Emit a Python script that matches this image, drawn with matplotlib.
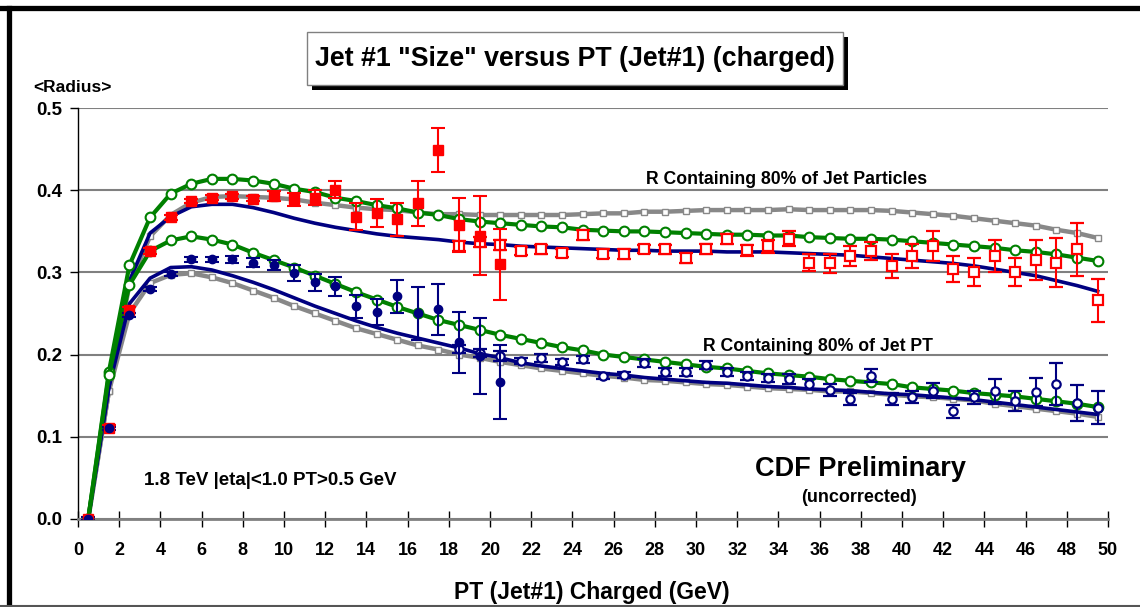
import numpy as np
import matplotlib
matplotlib.use("Agg")
import matplotlib.pyplot as plt
from matplotlib.lines import Line2D
from matplotlib.patches import Rectangle

plt.rcParams['font.family'] = ['Liberation Sans', 'DejaVu Sans']
plt.rcParams['font.weight'] = 'bold'

# bin centres (GeV)
pt = np.arange(0.5, 50.0, 1.0)

# theory curves, R containing 80% of jet particles
green_part = [0.0, 0.179, 0.309, 0.367, 0.396, 0.408, 0.414, 0.414, 0.412, 0.408,
              0.402, 0.398, 0.391, 0.387, 0.382, 0.378, 0.373, 0.370, 0.365, 0.362,
              0.360, 0.358, 0.356, 0.355, 0.352, 0.351, 0.350, 0.350, 0.349, 0.348,
              0.347, 0.346, 0.346, 0.345, 0.345, 0.343, 0.342, 0.341, 0.341, 0.340,
              0.338, 0.336, 0.334, 0.332, 0.330, 0.327, 0.325, 0.322, 0.318, 0.314]
gray_part = [0.0, 0.155, 0.285, 0.344, 0.370, 0.385, 0.392, 0.393, 0.392, 0.391,
             0.389, 0.385, 0.382, 0.379, 0.377, 0.376, 0.373, 0.371, 0.371, 0.370,
             0.370, 0.370, 0.370, 0.370, 0.371, 0.372, 0.372, 0.374, 0.374, 0.375,
             0.376, 0.376, 0.376, 0.376, 0.377, 0.376, 0.376, 0.376, 0.376, 0.375,
             0.373, 0.371, 0.369, 0.366, 0.363, 0.360, 0.357, 0.352, 0.348, 0.342]
blue_part = [0.0, 0.160, 0.290, 0.348, 0.368, 0.380, 0.383, 0.383, 0.379, 0.373,
             0.366, 0.360, 0.355, 0.351, 0.347, 0.344, 0.342, 0.340, 0.337, 0.335,
             0.334, 0.332, 0.331, 0.330, 0.329, 0.328, 0.327, 0.327, 0.326, 0.326,
             0.326, 0.325, 0.325, 0.325, 0.324, 0.323, 0.322, 0.321, 0.319, 0.317,
             0.315, 0.313, 0.311, 0.308, 0.304, 0.300, 0.296, 0.290, 0.284, 0.277]

# theory curves, R containing 80% of jet PT
green_pt = [0.0, 0.175, 0.285, 0.326, 0.339, 0.344, 0.340, 0.334, 0.324, 0.315,
            0.306, 0.296, 0.286, 0.276, 0.267, 0.258, 0.250, 0.242, 0.236, 0.230,
            0.224, 0.219, 0.214, 0.209, 0.205, 0.200, 0.197, 0.194, 0.191, 0.188,
            0.185, 0.183, 0.180, 0.177, 0.175, 0.173, 0.170, 0.168, 0.166, 0.164,
            0.160, 0.158, 0.156, 0.153, 0.151, 0.149, 0.146, 0.143, 0.140, 0.136]
gray_pt = [0.0, 0.155, 0.250, 0.287, 0.297, 0.299, 0.294, 0.287, 0.278, 0.269,
           0.259, 0.250, 0.241, 0.232, 0.225, 0.218, 0.211, 0.206, 0.200, 0.196,
           0.191, 0.187, 0.183, 0.180, 0.177, 0.174, 0.172, 0.169, 0.168, 0.166,
           0.164, 0.163, 0.161, 0.159, 0.158, 0.157, 0.155, 0.155, 0.153, 0.151,
           0.149, 0.148, 0.146, 0.144, 0.140, 0.137, 0.134, 0.131, 0.128, 0.124]
blue_pt = [0.0, 0.160, 0.262, 0.293, 0.306, 0.307, 0.303, 0.296, 0.288, 0.279,
           0.269, 0.259, 0.250, 0.241, 0.233, 0.226, 0.220, 0.214, 0.208, 0.201,
           0.196, 0.190, 0.186, 0.183, 0.180, 0.177, 0.175, 0.172, 0.170, 0.168,
           0.166, 0.165, 0.163, 0.161, 0.160, 0.158, 0.157, 0.156, 0.154, 0.152,
           0.151, 0.149, 0.147, 0.145, 0.142, 0.139, 0.136, 0.133, 0.130, 0.127]

# data: particles (red), low-PT sample (filled) and high-PT sample (open)
red_lo = [0.0, 0.111, 0.254, 0.326, 0.367, 0.387, 0.391, 0.393, 0.390, 0.393,
          0.389, 0.391, 0.401, 0.368, 0.372, 0.365, 0.384, 0.449, 0.358, 0.345, 0.310]
red_lo_err = [0.002, 0.003, 0.004, 0.004, 0.003, 0.003, 0.003, 0.003, 0.003, 0.006,
              0.008, 0.009, 0.010, 0.016, 0.017, 0.020, 0.027, 0.027, 0.033, 0.048, 0.043]
red_hi = [0.332, 0.337, 0.333, 0.326, 0.328, 0.324, 0.346, 0.323, 0.322, 0.329,
          0.328, 0.318, 0.329, 0.341, 0.327, 0.332, 0.341, 0.312, 0.311, 0.320,
          0.326, 0.308, 0.320, 0.332, 0.304, 0.300, 0.320, 0.300, 0.315, 0.312,
          0.328, 0.266]
red_hi_err = [0.006, 0.006, 0.006, 0.005, 0.005, 0.005, 0.006, 0.005, 0.006, 0.005,
              0.006, 0.006, 0.006, 0.006, 0.007, 0.008, 0.009, 0.010, 0.012, 0.012,
              0.011, 0.015, 0.015, 0.018, 0.016, 0.017, 0.020, 0.017, 0.024, 0.030,
              0.032, 0.026]

# data: PT (blue)
blue_lo = [0.0, 0.110, 0.248, 0.280, 0.298, 0.316, 0.316, 0.316, 0.312, 0.309,
           0.299, 0.288, 0.283, 0.259, 0.252, 0.271, 0.250, 0.255, 0.215, 0.198, 0.166]
blue_lo_err = [0.002, 0.002, 0.002, 0.002, 0.002, 0.003, 0.003, 0.004, 0.005, 0.006,
               0.010, 0.010, 0.012, 0.014, 0.016, 0.020, 0.032, 0.031, 0.037, 0.046, 0.045]
blue_hi = [0.207, 0.202, 0.198, 0.192, 0.196, 0.191, 0.194, 0.174, 0.175, 0.190,
           0.179, 0.179, 0.187, 0.179, 0.174, 0.171, 0.170, 0.164, 0.157, 0.146,
           0.174, 0.146, 0.148, 0.156, 0.131, 0.148, 0.155, 0.143, 0.154, 0.164,
           0.141, 0.135]
blue_hi_err = [0.005, 0.005, 0.006, 0.004, 0.005, 0.004, 0.004, 0.004, 0.004, 0.005,
               0.005, 0.005, 0.005, 0.005, 0.005, 0.005, 0.006, 0.006, 0.007, 0.007,
               0.008, 0.007, 0.007, 0.009, 0.008, 0.008, 0.015, 0.012, 0.017, 0.026,
               0.022, 0.020]

GREEN = '#008000'
GRAY = '#888888'
NAVY = '#000080'
RED = '#ff0000'

fig = plt.figure(figsize=(11.4, 6.07), dpi=100)
ax = fig.add_axes([0.0684, 0.1455, 0.9035, 0.6761])

n_lo = len(red_lo)
x_lo = pt[:n_lo]
x_hi = pt[len(pt) - len(red_hi):]

for g, s, b in [(green_part, gray_part, blue_part), (green_pt, gray_pt, blue_pt)]:
    ax.plot(pt, s, color=GRAY, lw=3.2, marker='s', ms=4, mfc='white', mec=GRAY, mew=1.0, zorder=3)
    ax.plot(pt, b, color=NAVY, lw=2.6, zorder=4)
    ax.plot(pt, g, color=GREEN, lw=3.0, marker='o', ms=7, mfc='white', mec=GREEN, mew=1.5, zorder=5)

ax.errorbar(x_hi, red_hi, yerr=red_hi_err, fmt='s', ms=6.5, mfc='white', mec=RED, mew=1.6,
            ecolor=RED, elinewidth=1.5, capsize=5, capthick=1.5, zorder=6)
ax.errorbar(x_lo, red_lo, yerr=red_lo_err, fmt='s', ms=6.5, color=RED,
            ecolor=RED, elinewidth=1.5, capsize=5, capthick=1.5, zorder=7)
ax.errorbar(x_hi, blue_hi, yerr=blue_hi_err, fmt='o', ms=6, mfc='white', mec=NAVY, mew=1.6,
            ecolor=NAVY, elinewidth=1.5, capsize=5, capthick=1.5, zorder=6)
ax.errorbar(x_lo, blue_lo, yerr=blue_lo_err, fmt='o', ms=6, color=NAVY,
            ecolor=NAVY, elinewidth=1.5, capsize=5, capthick=1.5, zorder=7)

ax.set_xlim(0, 50)
ax.set_ylim(0, 0.5)
ax.set_xticks(np.arange(0, 51, 2))
ax.set_yticks(np.arange(0, 0.51, 0.1))
ax.set_yticklabels(['%.1f' % v for v in np.arange(0, 0.51, 0.1)])
ax.grid(axis='y', color='#808080', lw=1.5)
ax.set_axisbelow(True)
for side in ['top', 'right']:
    ax.spines[side].set_visible(False)
ax.spines['bottom'].set_color('#808080')
ax.spines['bottom'].set_linewidth(2)
ax.spines['left'].set_linewidth(1)
ax.tick_params(axis='x', direction='inout', length=11, width=1, labelsize=13, pad=11)
ax.tick_params(axis='y', direction='out', length=6, width=1, labelsize=13.5, pad=5)
for lab in ax.get_xticklabels() + ax.get_yticklabels():
    lab.set_fontweight('bold')

ax.text(34.4, 0.413, 'R Containing 80% of Jet Particles', ha='center', va='center', fontsize=12.7)
ax.text(35.9, 0.210, 'R Containing 80% of Jet PT', ha='center', va='center', fontsize=12.7)
ax.text(3.2, 0.047, '1.8 TeV |eta|<1.0 PT>0.5 GeV', ha='left', va='center', fontsize=13.5)
ax.text(38.0, 0.061, 'CDF Preliminary', ha='center', va='center', fontsize=19.5)
ax.text(37.9, 0.026, '(uncorrected)', ha='center', va='center', fontsize=13)

fig.text(33 / 1140, 1 - 88 / 607, '<Radius>', ha='left', va='center', fontsize=12.5)
fig.text(0.519, 1 - 592 / 607, 'PT (Jet#1) Charged (GeV)', ha='center', va='center', fontsize=16.5)

# title box with drop shadow
fig.add_artist(Rectangle((312 / 1140, 1 - 90 / 607), 536 / 1140, 53 / 607,
                         transform=fig.transFigure, facecolor='black', edgecolor='none'))
fig.add_artist(Rectangle((307 / 1140, 1 - 85 / 607), 536 / 1140, 53 / 607,
                         transform=fig.transFigure, facecolor='white', edgecolor='#808080', lw=1))
fig.text(575 / 1140, 1 - 59 / 607, 'Jet #1 "Size" versus PT (Jet#1) (charged)',
         ha='center', va='center', fontsize=19.3)

# outer frame
fig.add_artist(Line2D([0, 1], [1 - 7.5 / 607, 1 - 7.5 / 607], transform=fig.transFigure, color='black', lw=3.8))
fig.add_artist(Line2D([8.5 / 1140, 8.5 / 1140], [0, 1 - 7.5 / 607], transform=fig.transFigure, color='black', lw=3.8))
fig.add_artist(Line2D([0, 1], [1.5 / 607, 1.5 / 607], transform=fig.transFigure, color='#555555', lw=1.5))

fig.savefig('out.png', dpi=100)
